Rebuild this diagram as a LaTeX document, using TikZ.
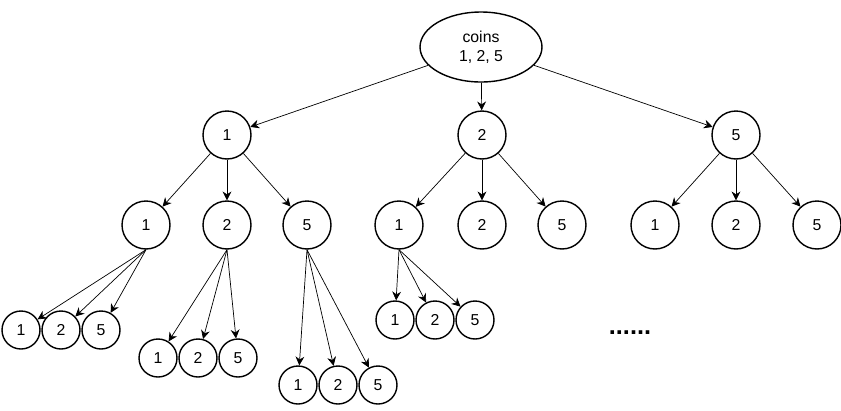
\documentclass[tikz,border=0pt]{standalone}
\usepackage{fontspec}
\setmainfont{Liberation Sans}
\usetikzlibrary{shapes.geometric, arrows.meta, positioning}

\begin{document}
\begin{tikzpicture}[
    x=0.02cm, y=-0.02cm,
    big/.style={circle, draw, thick, minimum size=0.96cm, inner sep=0pt, font=\small},
    small/.style={circle, draw, thick, minimum size=0.76cm, inner sep=0pt, font=\small},
    arrow/.style={-{Stealth[length=5pt, width=5pt]}, thin}
]
    \useasboundingbox (0,0) rectangle (841,410);
    \node[ellipse, draw, thick, minimum width=2.44cm, minimum height=1.4cm, align=center, font=\small] (root) at (481,47) {coins\\1, 2, 5};

    % first level
    \node[big] (a) at (227,135) {1};
    \node[big] (b) at (482,135) {2};
    \node[big] (c) at (736,135) {5};

    % second level
    \node[big] (a1) at (146,225) {1};
    \node[big] (a2) at (227,225) {2};
    \node[big] (a5) at (307,225) {5};
    \node[big] (b1) at (399,225) {1};
    \node[big] (b2) at (482,225) {2};
    \node[big] (b5) at (562,225) {5};
    \node[big] (c1) at (655,225) {1};
    \node[big] (c2) at (736,225) {2};
    \node[big] (c5) at (817,225) {5};

    % third level
    \node[small] (a11) at (21,330) {1};
    \node[small] (a12) at (61,330) {2};
    \node[small] (a15) at (101,330) {5};
    \node[small] (a21) at (158,358) {1};
    \node[small] (a22) at (198,358) {2};
    \node[small] (a25) at (238,358) {5};
    \node[small] (a51) at (298,385) {1};
    \node[small] (a52) at (338,385) {2};
    \node[small] (a55) at (378,385) {5};
    \node[small] (b11) at (395,320) {1};
    \node[small] (b12) at (435,320) {2};
    \node[small] (b15) at (475,320) {5};

    \node[font=\Large\bfseries] (dots) at (630,333) {......};

    \foreach \n in {a, b, c} {
        \draw[arrow] (root) -- (\n);
        \foreach \m in {1, 2, 5}
            \draw[arrow] (\n) -- (\n\m);
    }
    \foreach \p in {a1, a2, a5, b1}
        \foreach \m in {1, 2, 5}
            \draw[arrow] (\p.south) -- (\p\m);
\end{tikzpicture}
\end{document}
